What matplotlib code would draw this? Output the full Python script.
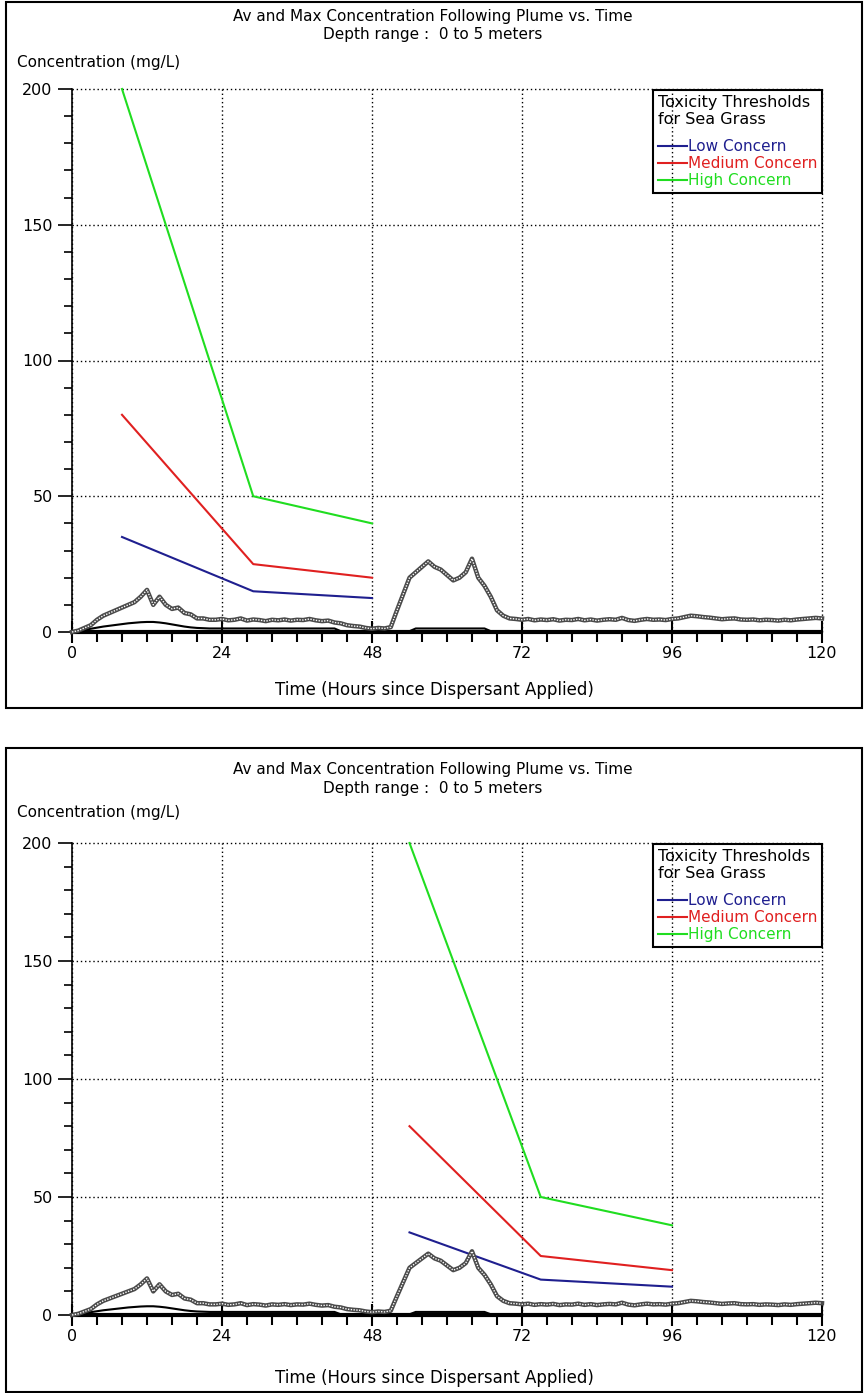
import numpy as np
import matplotlib
matplotlib.use("Agg")
import matplotlib.pyplot as plt
from matplotlib.lines import Line2D
from matplotlib.patches import Rectangle
from matplotlib.ticker import MultipleLocator

# Hourly time axis (hours since dispersant applied)
hours = list(range(0, 121))

# Maximum concentration following the plume (mg/L)
max_conc = [
    0, 0.5, 1.5, 2.5, 4.5, 6, 7, 8, 9, 10,
    11, 13, 15.5, 10, 13, 10, 8.5, 9, 7, 6.5,
    5, 5, 4.5, 4.5, 4.8, 4.3, 4.5, 5, 4.2, 4.6,
    4.4, 4.0, 4.5, 4.3, 4.6, 4.2, 4.5, 4.4, 4.8, 4.3,
    4.0, 4.2, 3.5, 3.2, 2.5, 2.2, 2.0, 1.5, 1.2, 1.5,
    1.3, 1.8, 8, 14, 20, 22, 24, 26, 24, 23,
    21, 19, 20, 22, 27, 20, 17, 13, 8, 6,
    5, 4.8, 4.5, 4.8, 4.3, 4.6, 4.4, 4.7, 4.2, 4.5,
    4.4, 4.8, 4.3, 4.6, 4.2, 4.5, 4.7, 4.5, 5.2, 4.4,
    4.1, 4.5, 4.8, 4.5, 4.6, 4.4, 4.8, 5.0, 5.5, 6.0,
    5.8, 5.5, 5.3, 5.0, 4.7, 4.9, 5.0, 4.6, 4.5, 4.6,
    4.3, 4.5, 4.4, 4.2, 4.5, 4.3, 4.6, 4.8, 5.0, 5.2,
    5.0,
]

# Average concentration following the plume (mg/L)
avg_conc = (
    [0, 0.3, 0.8, 1.2, 1.6, 2.0, 2.3, 2.6, 2.9, 3.2,
     3.4, 3.6, 3.7, 3.7, 3.5, 3.2, 2.8, 2.4, 2.0, 1.7,
     1.5, 1.4, 1.3, 1.3]
    + [1.3] * 19
    + [0.3] * 12
    + [1.3] * 12
    + [0.3] * 54
)

# Toxicity thresholds for sea grass (exposure-time dependent)
thr_time_a = [8, 29, 48]
low_a = [35, 15, 12.5]
med_a = [80, 25, 20]
high_a = [200, 50, 40]

thr_time_b = [54, 75, 96]
low_b = [35, 15, 12]
med_b = [80, 25, 19]
high_b = [200, 50, 38]

panels = [
    dict(times=thr_time_a, low=low_a, med=med_a, high=high_a,
         frame=(2, 708), axes=(89, 632), title_y=(17, 35), ylab_y=62, xlab_y=690),
    dict(times=thr_time_b, low=low_b, med=med_b, high=high_b,
         frame=(748, 1392), axes=(843, 1315), title_y=(770, 788), ylab_y=812, xlab_y=1378),
]

W, H = 865, 1393
fig = plt.figure(figsize=(W / 100, H / 100), dpi=100)
fig.patch.set_facecolor("white")

LOW_C = "#1f1f8f"
MED_C = "#e02020"
HIGH_C = "#20dd20"

def fx(px):
    return px / W

def fy(py):
    return 1 - py / H

for p in panels:
    f_top, f_bot = p["frame"]
    fig.patches.append(Rectangle((fx(6), fy(f_bot)), fx(856), (f_bot - f_top) / H,
                                 transform=fig.transFigure, fill=False,
                                 edgecolor="black", linewidth=1.5))
    a_top, a_bot = p["axes"]
    ax = fig.add_axes([fx(72), fy(a_bot), fx(750), (a_bot - a_top) / H])
    ax.set_xlim(0, 120)
    ax.set_ylim(0, 200)
    for s in ("top", "right"):
        ax.spines[s].set_visible(False)
    ax.spines["left"].set_linewidth(1.2)
    ax.spines["bottom"].set_linewidth(3)
    ax.spines["bottom"].set_capstyle("butt")

    ax.xaxis.set_major_locator(MultipleLocator(24))
    ax.xaxis.set_minor_locator(MultipleLocator(4))
    ax.yaxis.set_major_locator(MultipleLocator(50))
    ax.yaxis.set_minor_locator(MultipleLocator(10))
    ax.tick_params(axis="x", which="major", direction="inout", length=16, width=1.5,
                   labelsize=11.5, pad=2)
    ax.tick_params(axis="x", which="minor", direction="out", length=7, width=1.5)
    ax.tick_params(axis="y", which="major", direction="out", length=10, width=1.2,
                   labelsize=11.5, pad=4)
    ax.tick_params(axis="y", which="minor", direction="out", length=6, width=1.2)
    ax.grid(True, which="major", linestyle=(0, (1, 2)), color="black", linewidth=1)
    ax.set_axisbelow(True)
    for gl in ax.get_xgridlines() + ax.get_ygridlines():
        gl.set_clip_on(False)

    # Threshold curves
    ax.plot(p["times"], p["low"], color=LOW_C, lw=1.5, clip_on=False, zorder=3)
    ax.plot(p["times"], p["med"], color=MED_C, lw=1.5, clip_on=False, zorder=3)
    ax.plot(p["times"], p["high"], color=HIGH_C, lw=1.5, clip_on=False, zorder=3)

    # Average concentration
    ax.plot(hours, avg_conc, color="black", lw=1.5, zorder=4, clip_on=False)
    # Maximum concentration (checkered trace)
    ax.plot(hours, max_conc, color="#4a4a4a", lw=3.2, zorder=5, clip_on=False)
    ax.plot(hours, max_conc, color="white", lw=1.0, linestyle=(0, (1, 1)),
            zorder=6, clip_on=False)

    handles = [Line2D([], [], color=c, lw=1.5) for c in (LOW_C, MED_C, HIGH_C)]
    leg = ax.legend(handles, ["Low Concern", "Medium Concern", "High Concern"],
                    title="Toxicity Thresholds\nfor Sea Grass", loc="upper left",
                    bbox_to_anchor=(fx(653), fy(a_top + 1)), bbox_transform=fig.transFigure,
                    fontsize=11, title_fontsize=11.5, frameon=True, fancybox=False,
                    edgecolor="black", handlelength=1.9,
                    handletextpad=0.1, labelspacing=0.12, borderpad=0.3,
                    borderaxespad=0)
    frame = leg.get_frame()
    frame.set_linewidth(1.5)
    frame.set_facecolor("none")
    frame.set_edgecolor("black")
    frame.set_alpha(None)
    leg._legend_box.align = "left"
    leg._legend_box.sep = 9
    for t, c in zip(leg.get_texts(), (LOW_C, MED_C, HIGH_C)):
        t.set_color(c)
    leg.set_zorder(10)

    t1, t2 = p["title_y"]
    fig.text(0.5, fy(t1), "Av and Max Concentration Following Plume vs. Time",
             ha="center", va="center", fontsize=11)
    fig.text(0.5, fy(t2), "Depth range :  0 to 5 meters",
             ha="center", va="center", fontsize=11)
    fig.text(fx(17), fy(p["ylab_y"]), "Concentration (mg/L)",
             ha="left", va="center", fontsize=11)
    fig.text(fx(434), fy(p["xlab_y"]), "Time (Hours since Dispersant Applied)",
             ha="center", va="center", fontsize=12)

fig.savefig("out.png", dpi=100)
